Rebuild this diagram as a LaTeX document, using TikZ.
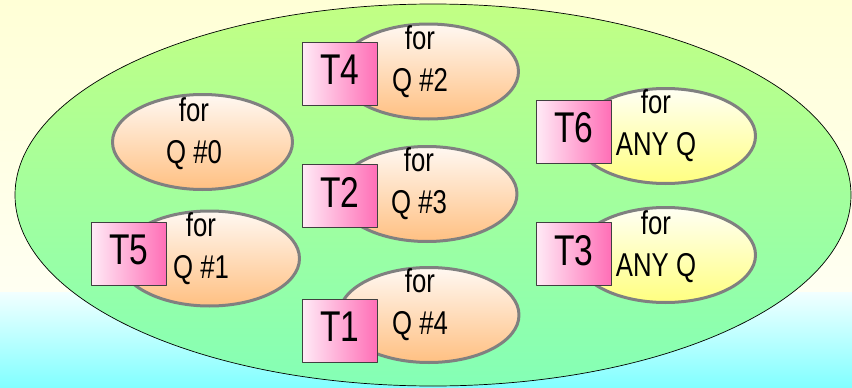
\documentclass[tikz,border=0pt]{standalone}
\usepackage{fontspec}
\setmainfont{Liberation Sans}[FakeStretch=0.78]
\usetikzlibrary{shapes.geometric}

\definecolor{qpoolsky}{HTML}{FFFFD6}
\definecolor{qpoolskylow}{HTML}{FFFFF2}
\definecolor{qpoolsea}{HTML}{F2FFFF}
\definecolor{qpoolsealow}{HTML}{80FFFF}
\definecolor{qpoolgreen}{HTML}{C2FF84}
\definecolor{qpoolmint}{HTML}{84FFB6}
\definecolor{qpoolrim}{HTML}{808080}
\definecolor{qpoolpeachtop}{HTML}{FFF8F2}
\definecolor{qpoolpeach}{HTML}{FFC082}
\definecolor{qpoolyellowtop}{HTML}{FFFFF4}
\definecolor{qpoolyellow}{HTML}{FFFF80}
\definecolor{qpooltagleft}{HTML}{FFEAF6}
\definecolor{qpooltagright}{HTML}{FF6EB6}
\definecolor{qpooltagedge}{HTML}{404040}

\begin{document}
\begin{tikzpicture}[x=1pt,y=-1pt,line join=round,
  qring/.style={ellipse,draw=qpoolrim,line width=3pt,inner sep=0pt,
    minimum width=180pt,minimum height=95pt,
    top color=qpoolpeachtop,bottom color=qpoolpeach},
  anyring/.style={qring,top color=qpoolyellowtop,bottom color=qpoolyellow},
  qtext/.style={align=center,inner sep=0pt,font=\fontsize{33}{42}\selectfont},
  tagbox/.style={rectangle,draw=qpooltagedge,line width=0.8pt,inner sep=0pt,
    minimum width=75pt,minimum height=63pt,text depth=8pt,
    left color=qpooltagleft,right color=qpooltagright,
    font=\fontsize{43}{50}\selectfont}]
  % Match the original slide frame.
  \useasboundingbox (0,0) rectangle (852,388);

  % Background: pale yellow above, cyan band below.
  \fill[top color=qpoolsky,bottom color=qpoolskylow] (0,0) rectangle (852,292);
  \fill[top color=qpoolsea,bottom color=qpoolsealow] (0,292) rectangle (852,388);

  % The pool.
  \draw[top color=qpoolgreen,bottom color=qpoolmint,line width=0.7pt]
    (433,195) ellipse [x radius=418, y radius=191];

  % Queue slots.
  \node[qring] (q0) at (202.5,142) {};
  \node[qring] (q1) at (209.5,258.5) {};
  \node[qring] (q2) at (428.5,71.5) {};
  \node[qring] (q3) at (427,194) {};
  \node[qring] (q4) at (429,315) {};
  \node[anyring] (qa) at (665.5,136) {};
  \node[anyring] (qb) at (665.5,255) {};

  \node[qtext] (q0t) at (194,134) {for\\Q \#0};
  \node[qtext] (q1t) at (201,248.5) {for\\Q \#1};
  \node[qtext] (q2t) at (420,61.5) {for\\Q \#2};
  \node[qtext] (q3t) at (419,184) {for\\Q \#3};
  \node[qtext] (q4t) at (420,304.5) {for\\Q \#4};
  \node[qtext] (qat) at (656,126) {for\\ANY Q};
  \node[qtext] (qbt) at (656,246.5) {for\\ANY Q};

  % Threads sit on top of their slots.
  \node[tagbox] (t4) at (340,74) {T4};
  \node[tagbox] (t5) at (129,254) {T5};
  \node[tagbox] (t6) at (574,131.5) {T6};
  \node[tagbox] (t2) at (340,196) {T2};
  \node[tagbox] (t1) at (340,331) {T1};
  \node[tagbox] (t3) at (574,254) {T3};
\end{tikzpicture}
\end{document}
